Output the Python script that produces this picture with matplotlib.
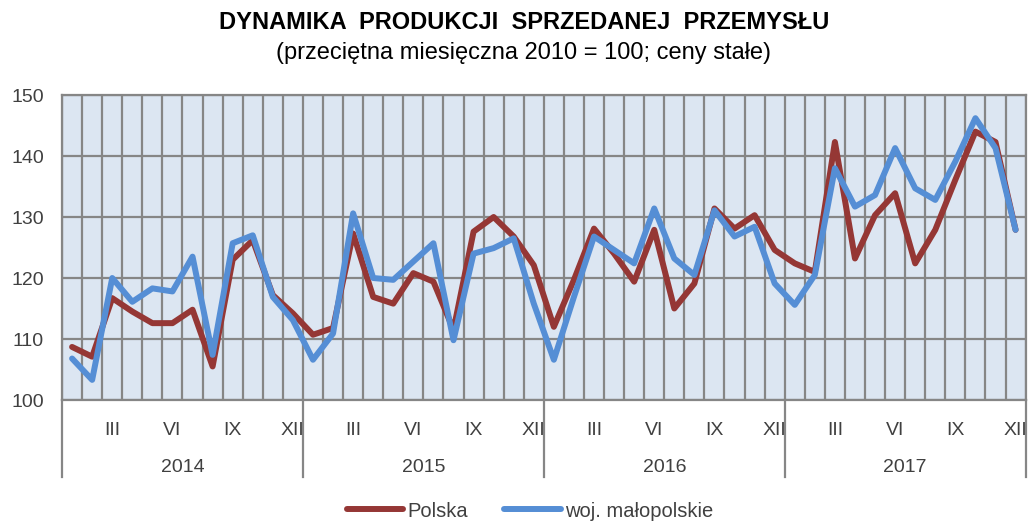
import numpy as np
import matplotlib.pyplot as plt
import matplotlib.transforms as mtransforms

plt.rcParams['font.family'] = ['Liberation Sans', 'DejaVu Sans']

years = ['2014', '2015', '2016', '2017']
month_labels = ['', '', 'III', '', '', 'VI', '', '', 'IX', '', '', 'XII']

polska = [
    108.7, 107.1, 116.7, 114.5, 112.6, 112.6, 114.8, 105.5, 123.0, 126.2, 117.2, 114.2,
    110.7, 111.8, 127.3, 116.9, 115.8, 120.8, 119.4, 111.5, 127.6, 130.0, 126.8, 122.1,
    112.0, 119.7, 128.1, 124.0, 119.4, 127.9, 115.0, 119.1, 131.4, 128.1, 130.3, 124.6,
    122.4, 121.0, 142.3, 123.2, 130.3, 133.9, 122.4, 127.9, 136.1, 144.0, 142.3, 127.9,
]
malopolskie = [
    106.8, 103.3, 120.0, 116.1, 118.3, 117.8, 123.5, 107.4, 125.7, 127.0, 116.9, 113.1,
    106.6, 110.9, 130.6, 120.0, 119.7, 122.7, 125.7, 109.8, 124.0, 124.9, 126.5, 115.8,
    106.6, 116.9, 126.8, 124.6, 122.4, 131.4, 123.2, 120.5, 131.1, 126.8, 128.4, 119.1,
    115.6, 120.5, 138.0, 131.7, 133.6, 141.3, 134.7, 132.8, 139.1, 146.2, 141.3, 127.9,
]

red = '#953735'
blue = '#558ed5'
grid_col = '#868686'
txt = '#404040'

fig = plt.figure(figsize=(10.29, 5.22), dpi=100)
ax = fig.add_axes([0.0603, 0.2337, 0.9364, 0.5843])
ax.set_facecolor('#dce6f2')

n = len(polska)
x = np.arange(n)
ax.plot(x, polska, color=red, lw=4.3, solid_capstyle='round', solid_joinstyle='round',
        label='Polska', zorder=3)
ax.plot(x, malopolskie, color=blue, lw=4.3, solid_capstyle='round', solid_joinstyle='round',
        label='woj. małopolskie', zorder=4)

ax.set_xlim(-0.5, n - 0.5)
ax.set_ylim(100, 150)
ax.set_yticks(np.arange(100, 151, 10))
ax.set_xticks(x)
ax.set_xticklabels(month_labels * len(years))
ax.set_xticks(np.arange(-0.5, n, 1), minor=True)
ax.grid(True, which='minor', axis='x', color=grid_col, lw=1.6, zorder=1)
ax.grid(True, which='major', axis='y', color=grid_col, lw=1.6, zorder=1)
ax.tick_params(axis='both', which='both', length=0, labelsize=14, labelcolor=txt)
ax.tick_params(axis='y', pad=13)
ax.tick_params(axis='x', pad=16)
for s in ax.spines.values():
    s.set_color(grid_col)
    s.set_linewidth(1.6)

# year level of the category axis
trans = mtransforms.blended_transform_factory(ax.transData, ax.transAxes)
for i, yr in enumerate(years):
    ax.text(i * 12 + 5.5, -0.222, yr, transform=trans, ha='center', va='center',
            fontsize=14, color=txt)
for b in np.arange(-0.5, n, 12):
    ax.plot([b, b], [0, -0.252], transform=trans, color=grid_col, lw=1.6, clip_on=False)

fig.text(0.509, 0.956, 'DYNAMIKA  PRODUKCJI  SPRZEDANEJ  PRZEMYSŁU', ha='center', va='center',
         fontsize=17, fontweight='bold', color='black')
fig.text(0.509, 0.898, '(przeciętna miesięczna 2010 = 100; ceny stałe)', ha='center', va='center',
         fontsize=17, color='black')

fig.legend(loc='center', bbox_to_anchor=(0.515, 0.021), ncol=2, frameon=False, fontsize=14.5,
           handlelength=2.8, handletextpad=0.2, columnspacing=1.8, labelcolor=txt)

fig.savefig('out.png', dpi=100)
